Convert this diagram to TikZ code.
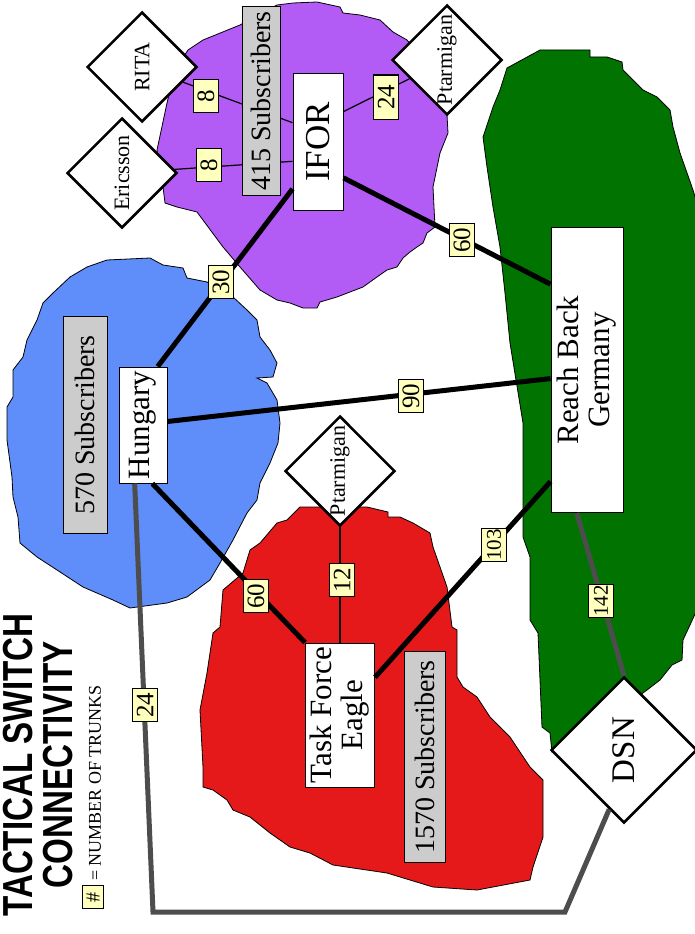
\documentclass[tikz,border=0pt]{standalone}
\usepackage{fontspec}
\setmainfont{Liberation Serif}
\newfontfamily\titlefont[FakeStretch=0.79]{Liberation Sans}
\usetikzlibrary{shapes.geometric, calc}

\definecolor{iforpurple}{RGB}{179,91,245}
\definecolor{hungblue}{RGB}{95,141,250}
\definecolor{tfered}{RGB}{229,25,25}
\definecolor{reachgreen}{RGB}{0,115,0}
\definecolor{subgray}{RGB}{204,204,204}
\definecolor{trunkyellow}{RGB}{255,255,190}
\definecolor{dsngray}{RGB}{77,77,77}

\begin{document}
\begin{tikzpicture}[
  x=1pt, y=-1pt,
  region/.style = {draw=black, line width=0.8pt},
  switch/.style = {draw, diamond, fill=white, line width=2.5pt, rotate=90,
                   inner sep=0pt, minimum size=110pt, font=\fontsize{22}{22}\selectfont},
  site/.style   = {draw, fill=white, line width=1pt, rotate=90, inner sep=0pt,
                   align=center, font=\fontsize{31}{31}\selectfont},
  subs/.style   = {draw, fill=subgray, line width=1pt, rotate=90, inner sep=0pt,
                   font=\fontsize{28}{28}\selectfont},
  trunks/.style = {draw, fill=trunkyellow, line width=1pt, rotate=90, inner sep=0pt,
                   minimum width=33pt, minimum height=25pt, font=\fontsize{25}{25}\selectfont},
  link/.style   = {line width=1.2pt},
  trunk/.style  = {line width=5pt},
  dsnlink/.style= {line width=5pt, draw=dsngray},
]
  \useasboundingbox (0,0) rectangle (695,934);

  % coloured areas
  \draw[region, fill=reachgreen] (540,50) -- (590,50) -- (590,57) -- (607,57) -- (622,62)
    -- (623,70) -- (643,90) -- (657,97) -- (670,110) -- (673,127) -- (680,153) -- (693,190)
    -- (696,200) -- (696,612) -- (683,640) -- (682,660) -- (672,665) -- (660,680) -- (647,690)
    -- (620,710) -- (552,752) -- (550,733) -- (542,727) -- (538,633) -- (530,620) -- (530,557)
    -- (523,537) -- (523,423) -- (510,343) -- (505,293) -- (500,247) -- (493,207) -- (487,167)
    -- (483,137) -- (493,107) -- (500,90) -- (507,68) -- cycle;
  \draw[region, fill=iforpurple] (188,50) -- (203,40) -- (240,25) -- (277,5) -- (293,3)
    -- (317,2) -- (340,7) -- (343,13) -- (360,15) -- (380,20) -- (393,32) -- (407,40)
    -- (440,80) -- (447,115) -- (448,133) -- (440,153) -- (433,187) -- (435,227) -- (427,233)
    -- (423,243) -- (417,247) -- (410,252) -- (403,258) -- (397,267) -- (387,270) -- (377,277)
    -- (370,282) -- (363,287) -- (350,292) -- (337,297) -- (320,302) -- (317,308) -- (303,308)
    -- (290,303) -- (277,300) -- (260,290) -- (240,267) -- (223,247) -- (197,212) -- (177,207)
    -- (165,203) -- (163,187) -- (157,150) -- (167,103) -- (175,70) -- cycle;
  \draw[region, fill=hungblue] (87,267) -- (107,260) -- (150,258) -- (163,265) -- (183,268)
    -- (187,278) -- (207,282) -- (233,297) -- (247,310) -- (257,320) -- (260,337) -- (270,350)
    -- (277,363) -- (273,377) -- (257,378) -- (267,383) -- (277,400) -- (280,423) -- (278,443)
    -- (270,463) -- (260,483) -- (257,500) -- (247,513) -- (233,540) -- (220,563) -- (210,580)
    -- (187,597) -- (167,603) -- (130,608) -- (113,600) -- (83,587) -- (57,570) -- (37,557)
    -- (20,543) -- (18,517) -- (13,497) -- (12,477) -- (7,440) -- (7,407) -- (13,397) -- (13,370)
    -- (23,357) -- (27,340) -- (37,320) -- (43,303) -- (53,293) -- (70,277) -- cycle;
  \draw[region, fill=tfered] (297,510) -- (300,507) -- (367,507) -- (388,512) -- (388,517)
    -- (400,517) -- (413,523) -- (430,533) -- (433,547) -- (440,567) -- (447,587) -- (452,627)
    -- (457,630) -- (457,677) -- (463,687) -- (477,697) -- (490,717) -- (510,737) -- (530,767)
    -- (543,780) -- (543,837) -- (533,867) -- (530,880) -- (477,890) -- (433,887) -- (387,873)
    -- (333,865) -- (310,853) -- (290,847) -- (270,833) -- (250,817) -- (233,810) -- (227,800)
    -- (213,790) -- (203,787) -- (203,767) -- (200,710) -- (207,673) -- (213,633) -- (220,627)
    -- (223,590) -- (243,573) -- (250,550) -- (260,543) -- (277,523) -- (287,520) -- cycle;

  % switches
  \node[switch] (rita)     at (142,67)  {RITA};
  \node[switch] (ericsson) at (122,173) {Ericsson};
  \node[switch] (ptarmA)   at (447,60)  {Ptarmigan};
  \node[switch] (ptarmB)   at (340,471) {Ptarmigan};
  \node[switch, minimum size=146pt, font=\fontsize{33}{33}\selectfont]
                (dsn)      at (624,750) {DSN};

  \node[site, minimum width=137pt, minimum height=50pt, font=\fontsize{35}{35}\selectfont]
                (ifor)    at (318,142) {IFOR};
  \node[site, minimum width=116pt, minimum height=48pt] (hungary) at (143,425) {Hungary};
  \node[site, minimum width=144pt, minimum height=69pt] (tfe)     at (340,715) {Task Force\\Eagle};
  \node[site, minimum width=285pt, minimum height=72pt] (reach)   at (587,370) {Reach Back\\Germany};

  % trunks
  \draw[link] (rita)     -- ($(ifor.north east)!0.36!(ifor.north west)$);
  \draw[link] (ericsson) -- ($(ifor.north east)!0.64!(ifor.north west)$);
  \draw[link] ($(ifor.south east)!0.28!(ifor.south west)$) -- (ptarmA);
  \draw[link] (ptarmB.west) -- (tfe.east);
  \draw[trunk] ($(ifor.north east)!0.84!(ifor.north west)$)
            -- ($(hungary.north east)!0.8!(hungary.south east)$);
  \draw[trunk] ($(ifor.south east)!0.76!(ifor.south west)$)
            -- ($(reach.north east)!0.2!(reach.north west)$);
  \draw[trunk] ($(hungary.south east)!0.47!(hungary.south west)$)
            -- ($(reach.north east)!0.53!(reach.north west)$);
  \draw[trunk] ($(hungary.north west)!0.69!(hungary.south west)$) -- (tfe.north east);
  \draw[trunk] ($(tfe.south east)!0.24!(tfe.south west)$)
            -- ($(reach.north east)!0.89!(reach.north west)$);
  \draw[dsnlink] ($(reach.north west)!0.36!(reach.south west)$) -- (dsn.east);

  \coordinate (loopA) at (153,912);
  \coordinate (loopB) at (565,912);
  \draw[dsnlink] ($(hungary.north west)!0.33!(hungary.south west)$) -- (loopA) -- (loopB)
              -- ($(dsn.west)!0.2!(dsn.north)$);

  % subscriber counts
  \node[subs, minimum width=188pt, minimum height=38pt] (iforsubs) at (261,101) {415 Subscribers};
  \node[subs, minimum width=217pt, minimum height=44pt] (hungsubs) at (85,425)  {570 Subscribers};
  \node[subs, minimum width=211pt, minimum height=41pt] (tfesubs)  at (425,757) {1570 Subscribers};

  % number of trunks
  \node[trunks] (n8rita)   at (206,96)  {8};
  \node[trunks] (n8eric)   at (209,165) {8};
  \node[trunks, minimum width=44pt] (n24ptarm) at (386,97) {24};
  \node[trunks] (n30)      at (221,282) {30};
  \node[trunks] (n60reach) at (462,240) {60};
  \node[trunks] (n90)      at (411,396) {90};
  \node[trunks] (n60tfe)   at (256,596) {60};
  \node[trunks] (n12)      at (342,580) {12};
  \node[trunks, font=\fontsize{21}{21}\selectfont] (n103) at (494,545) {103};
  \node[trunks, font=\fontsize{21}{21}\selectfont] (n142) at (601,601) {142};
  \node[trunks] (n24dsn)   at (145,705) {24};

  % title and key
  \node[rotate=90, align=center, inner sep=0pt,
        font=\titlefont\bfseries\fontsize{42}{40}\selectfont] (title) at (38,765)
        {TACTICAL SWITCH\\CONNECTIVITY};
  \node[trunks, minimum width=23pt, minimum height=21pt, font=\fontsize{20}{20}\selectfont]
        (key) at (93,897) {\#};
  \node[rotate=90, anchor=west, inner sep=0pt, font=\fontsize{18}{18}\selectfont]
        (keytext) at (95,881) {= NUMBER OF TRUNKS};
\end{tikzpicture}
\end{document}
